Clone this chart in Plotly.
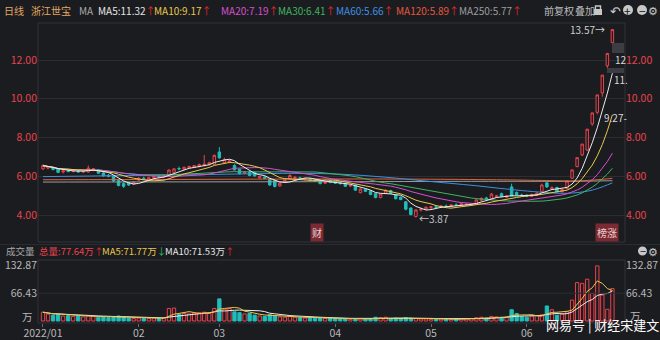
import plotly.graph_objects as go
import pandas as pd

# ---------------- data ----------------
month_ticks = [0, 19, 35, 58, 77, 96]
month_labels = ["2022/01", "02", "03", "04", "05", "06"]

opens = [6.38, 6.42, 6.45, 6.38, 6.22, 6.28, 6.25, 6.28, 6.22, 6.22, 6.34, 6.33, 6.17, 6.05, 6.00, 5.78, 5.62, 5.68, 5.58,
         5.80, 5.90, 5.86, 5.92, 6.00, 5.96, 6.08, 6.20, 6.40, 6.36, 6.44, 6.46, 6.50, 6.56, 6.62, 6.62,
         7.25, 6.70, 6.72, 6.55, 6.36, 6.15, 6.22, 6.20, 5.92, 5.96, 5.86, 5.78, 5.50, 5.72, 5.86, 5.88, 5.92, 5.85, 5.86, 5.80, 5.76, 5.64, 5.78,
         5.74, 5.66, 5.62, 5.50, 5.55, 5.15, 5.32, 5.24, 5.10, 4.90, 5.12, 5.26, 5.04, 4.92, 4.68, 4.36, 3.92, 4.26, 4.30,
         4.38, 4.42, 4.40, 4.46, 4.44, 4.52, 4.50, 4.52, 4.55, 4.58, 4.76, 4.88, 4.84, 4.94, 5.10, 4.92, 5.45, 5.16, 5.03,
         5.02, 4.96, 5.02, 5.20, 5.66, 5.34, 5.42, 5.20, 5.36, 5.90, 6.50, 7.10, 7.35, 8.70, 9.30, 10.30, 11.70, 12.90]
highs = [6.62, 6.52, 6.50, 6.42, 6.32, 6.35, 6.34, 6.33, 6.30, 6.55, 6.42, 6.36, 6.22, 6.12, 6.04, 5.82, 5.68, 5.70, 5.75,
         5.95, 5.98, 5.96, 6.05, 6.08, 6.08, 6.36, 6.42, 6.50, 6.50, 6.55, 6.58, 6.65, 7.10, 6.75, 7.12,
         7.50, 6.96, 6.86, 6.62, 6.40, 6.26, 6.26, 6.24, 6.02, 6.02, 5.90, 5.82, 5.68, 5.88, 6.10, 6.00, 5.98, 5.92, 5.90, 5.86, 5.80, 5.76, 5.82,
         5.78, 5.72, 5.66, 5.58, 5.58, 5.38, 5.36, 5.28, 5.14, 5.12, 5.32, 5.30, 5.08, 4.96, 4.72, 4.40, 4.30, 4.38, 4.44,
         4.46, 4.50, 4.50, 4.54, 4.56, 4.60, 4.62, 4.60, 4.62, 4.82, 4.92, 4.94, 5.14, 5.04, 5.16, 5.02, 5.62, 5.22, 5.10,
         5.06, 5.10, 5.18, 5.62, 5.72, 5.48, 5.46, 5.36, 5.80, 6.33, 6.96, 7.66, 8.43, 9.27, 10.20, 11.22, 12.34, 13.57]
lows = [6.33, 6.36, 6.30, 6.16, 6.15, 6.20, 6.20, 6.18, 6.16, 6.18, 6.25, 6.12, 5.98, 5.95, 5.72, 5.48, 5.40, 5.50, 5.55,
        5.76, 5.82, 5.80, 5.88, 5.92, 5.92, 6.05, 6.16, 6.32, 6.32, 6.40, 6.42, 6.46, 6.50, 6.55, 6.58,
        6.90, 6.64, 6.68, 6.30, 6.10, 6.10, 6.00, 5.98, 5.88, 5.86, 5.50, 5.42, 5.46, 5.70, 5.84, 5.84, 5.82, 5.78, 5.76, 5.72, 5.58, 5.60, 5.64,
        5.60, 5.58, 5.44, 5.44, 5.24, 5.12, 5.18, 5.02, 4.86, 4.86, 5.10, 5.08, 4.80, 4.76, 4.24, 3.98, 3.87, 4.18, 4.26,
        4.30, 4.36, 4.36, 4.40, 4.40, 4.46, 4.46, 4.48, 4.50, 4.56, 4.72, 4.78, 4.82, 4.90, 4.92, 4.88, 4.96, 5.00, 4.94,
        4.92, 4.94, 5.00, 5.16, 5.40, 5.30, 5.16, 5.16, 5.34, 5.86, 6.46, 7.05, 7.30, 8.60, 9.20, 10.10, 11.58, 12.86]
closes = [6.55, 6.48, 6.35, 6.20, 6.28, 6.25, 6.30, 6.22, 6.26, 6.42, 6.38, 6.16, 6.02, 6.00, 5.76, 5.52, 5.48, 5.55, 5.70,
          5.90, 5.86, 5.92, 6.00, 5.96, 6.04, 6.32, 6.38, 6.38, 6.46, 6.50, 6.55, 6.60, 6.62, 6.70, 7.08,
          6.95, 6.86, 6.80, 6.33, 6.13, 6.22, 6.04, 6.02, 5.98, 5.90, 5.55, 5.47, 5.64, 5.82, 6.04, 5.95, 5.86, 5.88, 5.80, 5.76, 5.62, 5.70, 5.68,
          5.64, 5.62, 5.48, 5.52, 5.28, 5.34, 5.22, 5.06, 4.90, 5.08, 5.28, 5.12, 4.84, 4.80, 4.30, 4.02, 4.26, 4.30, 4.40,
          4.42, 4.40, 4.46, 4.44, 4.52, 4.50, 4.58, 4.55, 4.58, 4.78, 4.85, 4.82, 5.08, 4.98, 4.96, 4.98, 4.98, 5.03, 5.00,
          4.98, 5.05, 5.12, 5.55, 5.45, 5.40, 5.20, 5.32, 5.75, 6.33, 6.96, 7.66, 8.43, 9.27, 10.20, 11.22, 12.34, 13.57]
volumes = [21, 17, 14, 16, 12, 13, 11, 12, 10, 13, 11, 9, 10, 8, 9, 12, 10, 7, 6,
           7, 6, 6, 7, 6, 8, 30, 31, 16, 18, 17, 19, 20, 21, 18, 30,
           53, 28, 30, 22, 20, 17, 18, 14, 12, 11, 15, 13, 10, 9, 11, 9, 8, 7, 8, 7, 8, 6, 7,
           6, 5, 6, 4, 6, 5, 5, 6, 9, 8, 9, 6, 7, 6, 8, 7, 6, 5, 5,
           4, 4, 5, 4, 4, 5, 5, 5, 6, 8, 9, 7, 11, 10, 9, 9, 27, 18, 10,
           9, 12, 13, 15, 36, 27, 14, 17, 22, 50, 92, 90, 100, 66, 132, 62, 28, 77.64]

# long moving averages need history before the window: values
ma60_idx = [0, 12, 25, 40, 50, 59, 68, 76, 86, 95, 104, 108, 110, 113]
ma60_val = [5.98, 6.02, 6.06, 6.12, 6.15, 6.11, 5.95, 5.75, 5.51, 5.26, 5.12, 5.23, 5.36, 5.66]
ma120_idx = [0, 20, 40, 60, 75, 90, 100, 106, 110, 113]
ma120_val = [5.82, 5.83, 5.85, 5.86, 5.85, 5.82, 5.78, 5.76, 5.82, 5.89]
ma250_idx = [0, 30, 60, 90, 105, 113]
ma250_val = [5.70, 5.71, 5.72, 5.74, 5.74, 5.77]

price_ticks = [4, 6, 8, 10, 12]
vol_ticks = [66.43, 132.87]

# ---------------- style ----------------
W, H = 660, 340
ML, MR, MT, MB = 38, 35, 23, 17
PW, PH = W - ML - MR, H - MT - MB
BG = "#1b1c20"
RED = "#e8434c"
TEAL = "#1fbdbb"
GRID = "#2b2d32"
FONT = "Noto Sans CJK SC"
FS = 10
ARW = "#e2262f"


def fx(x):
    return (x - ML) / PW


def fy(y):
    return (H - MB - y) / PH


n = len(closes)
xs = list(range(n))
cs = pd.Series(closes)
ma5 = cs.rolling(5, min_periods=1).mean()
ma10 = cs.rolling(10, min_periods=1).mean()
ma20 = cs.rolling(20, min_periods=1).mean()
ma30 = cs.rolling(30, min_periods=1).mean()
vs = pd.Series(volumes)
vma5 = vs.rolling(5, min_periods=1).mean()
vma10 = vs.rolling(10, min_periods=1).mean()

fig = go.Figure()
fig.add_trace(go.Candlestick(
    x=xs, open=opens, high=highs, low=lows, close=closes,
    increasing=dict(line=dict(color=RED, width=1), fillcolor=BG),
    decreasing=dict(line=dict(color=TEAL, width=1), fillcolor=TEAL),
    whiskerwidth=0, hoverinfo="skip", showlegend=False))

for x, y, col in [(ma250_idx, ma250_val, "#9c9c9c"), (ma120_idx, ma120_val, "#e0643c"),
                  (ma60_idx, ma60_val, "#3f8fe0")]:
    fig.add_trace(go.Scatter(x=x, y=y, mode="lines", line=dict(color=col, width=1, shape="spline"),
                             hoverinfo="skip", showlegend=False))
for y, col in [(ma30, "#3fb461"), (ma20, "#d64fd0"), (ma10, "#e8c84a"), (ma5, "#ececec")]:
    fig.add_trace(go.Scatter(x=xs, y=y, mode="lines", line=dict(color=col, width=1),
                             hoverinfo="skip", showlegend=False))

fig.add_trace(go.Scatter(x=[0], y=[closes[0]], yaxis="y3", mode="markers",
                         marker=dict(opacity=0), hoverinfo="skip", showlegend=False))

up = [c >= o for o, c in zip(opens, closes)]
fig.add_trace(go.Bar(
    x=xs, y=volumes, xaxis="x2", yaxis="y2", width=0.66,
    marker=dict(color=[BG if u else TEAL for u in up],
                line=dict(color=[RED if u else TEAL for u in up], width=1)),
    hoverinfo="skip", showlegend=False))
fig.add_trace(go.Scatter(x=xs, y=vma10, xaxis="x2", yaxis="y2", mode="lines",
                         line=dict(color="#ececec", width=1), hoverinfo="skip", showlegend=False))
fig.add_trace(go.Scatter(x=xs, y=vma5, xaxis="x2", yaxis="y2", mode="lines",
                         line=dict(color="#e8c84a", width=1), hoverinfo="skip", showlegend=False))
fig.add_trace(go.Scatter(x=[0], y=[volumes[0]], xaxis="x2", yaxis="y4", mode="markers",
                         marker=dict(opacity=0), hoverinfo="skip", showlegend=False))

xr = [-0.99, 115.5]
main_dom = [fy(242), 1]
vol_dom = [0, fy(260)]
prange = [4 - (242 - 215) / 19.375, 12 + (60 - 23) / 19.375]
vscale = (321 - 265.5) / 132.87
vrange = [-(323 - 321) / vscale, (321 - 260) / vscale]
ptext = ["%.2f" % v for v in price_ticks]
vtext = ["%.2f" % v for v in vol_ticks]

fig.update_layout(
    width=W, height=H, margin=dict(l=ML, r=MR, t=MT, b=MB, autoexpand=False),
    paper_bgcolor=BG, plot_bgcolor=BG, showlegend=False,
    font=dict(family=FONT, size=FS, color="#b8b8b8"),
    xaxis=dict(domain=[0, 1], range=xr, anchor="y", showticklabels=False, showgrid=False,
               zeroline=False, rangeslider=dict(visible=False), automargin=False),
    xaxis2=dict(domain=[0, 1], range=xr, anchor="y2", matches="x", showgrid=False, zeroline=False,
                tickvals=month_ticks, ticktext=month_labels, ticks="outside", ticklen=3,
                ticklabelstandoff=-3,
                tickcolor="#6a6a6a", tickfont=dict(size=FS + 0.5, color="#b8b8b8"), automargin=False),
    yaxis=dict(domain=main_dom, range=prange, tickvals=price_ticks, ticktext=ptext, automargin=False,
               tickfont=dict(color=RED, size=FS + 0.5), gridcolor=GRID, zeroline=False, showline=False),
    yaxis3=dict(overlaying="y", side="right", range=prange, tickvals=price_ticks, ticktext=ptext,
                tickfont=dict(color=RED, size=FS + 0.5), showgrid=False, zeroline=False, automargin=False),
    yaxis2=dict(domain=vol_dom, range=vrange, tickvals=vol_ticks, ticktext=vtext, showgrid=False,
                zeroline=False, tickfont=dict(color="#b8b8b8", size=FS + 0.5), automargin=False),
    yaxis4=dict(overlaying="y2", side="right", range=vrange, tickvals=vol_ticks, ticktext=vtext,
                showgrid=False, zeroline=False, tickfont=dict(color="#b8b8b8", size=FS + 0.5),
                automargin=False),
)

shapes = [
    dict(type="rect", xref="paper", yref="paper", x0=0, x1=1, y0=fy(242), y1=fy(23),
         line=dict(color="#303238", width=1)),
    dict(type="rect", xref="paper", yref="paper", x0=0, x1=1, y0=0, y1=fy(260),
         line=dict(color="#303238", width=1)),
    dict(type="line", xref="paper", yref="y2", x0=0, x1=1, y0=vol_ticks[0], y1=vol_ticks[0],
         line=dict(color=GRID, width=1)),
    dict(type="line", xref="paper", yref="paper", x0=fx(0), x1=fx(W), y0=fy(244.5), y1=fy(244.5),
         line=dict(color="#2a2c31", width=1)),
    dict(type="rect", xref="paper", yref="paper", x0=fx(612), x1=fx(624), y0=fy(53), y1=fy(43),
         fillcolor="#3b3d43", line=dict(width=0)),
    dict(type="rect", xref="paper", yref="paper", x0=fx(607), x1=fx(624), y0=fy(73), y1=fy(68),
         fillcolor="#3b3d43", line=dict(width=0)),
    dict(type="rect", xref="paper", yref="paper", x0=fx(594), x1=fx(602), y0=fy(15), y1=fy(9),
         fillcolor="#c8c8c8", line=dict(width=0)),
    dict(type="path", xref="paper", yref="paper",
         path="M %f %f L %f %f L %f %f L %f %f" % (fx(595.5), fy(9), fx(595.5), fy(6), fx(600.5), fy(6), fx(600.5), fy(9)),
         line=dict(color="#c8c8c8", width=1.4)),
    dict(type="circle", xref="paper", yref="paper", x0=fx(623), x1=fx(633), y0=fy(15), y1=fy(5),
         fillcolor="#c8c8c8", line=dict(width=0)),
    dict(type="circle", xref="paper", yref="paper", x0=fx(637), x1=fx(647), y0=fy(15), y1=fy(5),
         fillcolor="#c8c8c8", line=dict(width=0)),
    dict(type="circle", xref="paper", yref="paper", x0=fx(638), x1=fx(647), y0=fy(255.5), y1=fy(246.5),
         fillcolor="#c8c8c8", line=dict(width=0)),
]
fig.update_layout(shapes=shapes)

ann = []


def txt(s, x, y, color, size=FS, anchor="left", **kw):
    ann.append(dict(text=s, x=fx(x), y=fy(y), xref="paper", yref="paper", xanchor=anchor,
                    yanchor="middle", showarrow=False, font=dict(color=color, size=size, family=FONT),
                    **kw))


def arrow(ch, col):
    return "<span style='color:%s'>%s</span>" % (col, ch)


txt("日线", 2, 10, "#e2a862")
txt("浙江世宝", 29, 10, "#e2a862")
txt("MA", 77, 10, "#a8a8a8")
for s, x, col in [("MA5:11.32", 96, "#e6e6e6"), ("MA10:9.17", 152, "#e8c84a"),
                  ("MA20:7.19", 219, "#d64fd0"), ("MA30:6.41", 276, "#3fb461"),
                  ("MA60:5.66", 334, "#3f8fe0"), ("MA120:5.89", 394, "#e4573d"),
                  ("MA250:5.77", 457, "#9c9c9c")]:
    txt(s + arrow("↑", ARW), x, 10, col)
txt("前复权", 542, 10, "#bdbdbd")
txt("叠加", 573, 10, "#bdbdbd")
txt("↶", 608, 10, "#c8c8c8", size=13)
txt("+", 628, 10, BG, size=12, anchor="center")
txt("−", 642, 10, BG, size=12, anchor="center")
txt("⚙", 653, 10, "#c8c8c8", size=11, anchor="center")

VFS = 9.5
txt("成交量", 4, 251, "#a8a8a8", size=VFS)
txt("总量:77.64万" + arrow("↑", ARW), 37, 251, RED, size=VFS)
txt("MA5:71.77万" + arrow("↓", "#2fbf5a"), 100, 251, "#e8c84a", size=VFS)
txt("MA10:71.53万" + arrow("↑", ARW), 163, 251, "#e6e6e6", size=VFS)
txt("−", 642.5, 251, BG, size=11, anchor="center")
txt("⚙", 653, 251, "#c8c8c8", size=11, anchor="center")

txt("万", 35, 316.5, "#b8b8b8", size=FS + 0.5, anchor="right")
txt("万", 628, 315.5, "#b8b8b8", size=FS + 0.5)

txt("13.57→", 607, 30, "#d0d0d0", anchor="right")
txt("←3.87", 417, 218, "#c8c8c8")
txt("12", 613, 59, "#d8d8d8")
txt("11.", 612, 79, "#d8d8d8")
txt("9.27-", 602, 117, "#d8d8d8")

txt("财", 317, 232, "#f0d0d0", anchor="center", bgcolor="#7a2a33")
txt("榜涨", 607, 232, "#f0d0d0", anchor="center", bgcolor="#7a2a33")

txt("网易号 | 财经宋建文", 544, 324, "#ffffff", size=13)

fig.update_layout(annotations=ann)
fig.write_html("out.html")
